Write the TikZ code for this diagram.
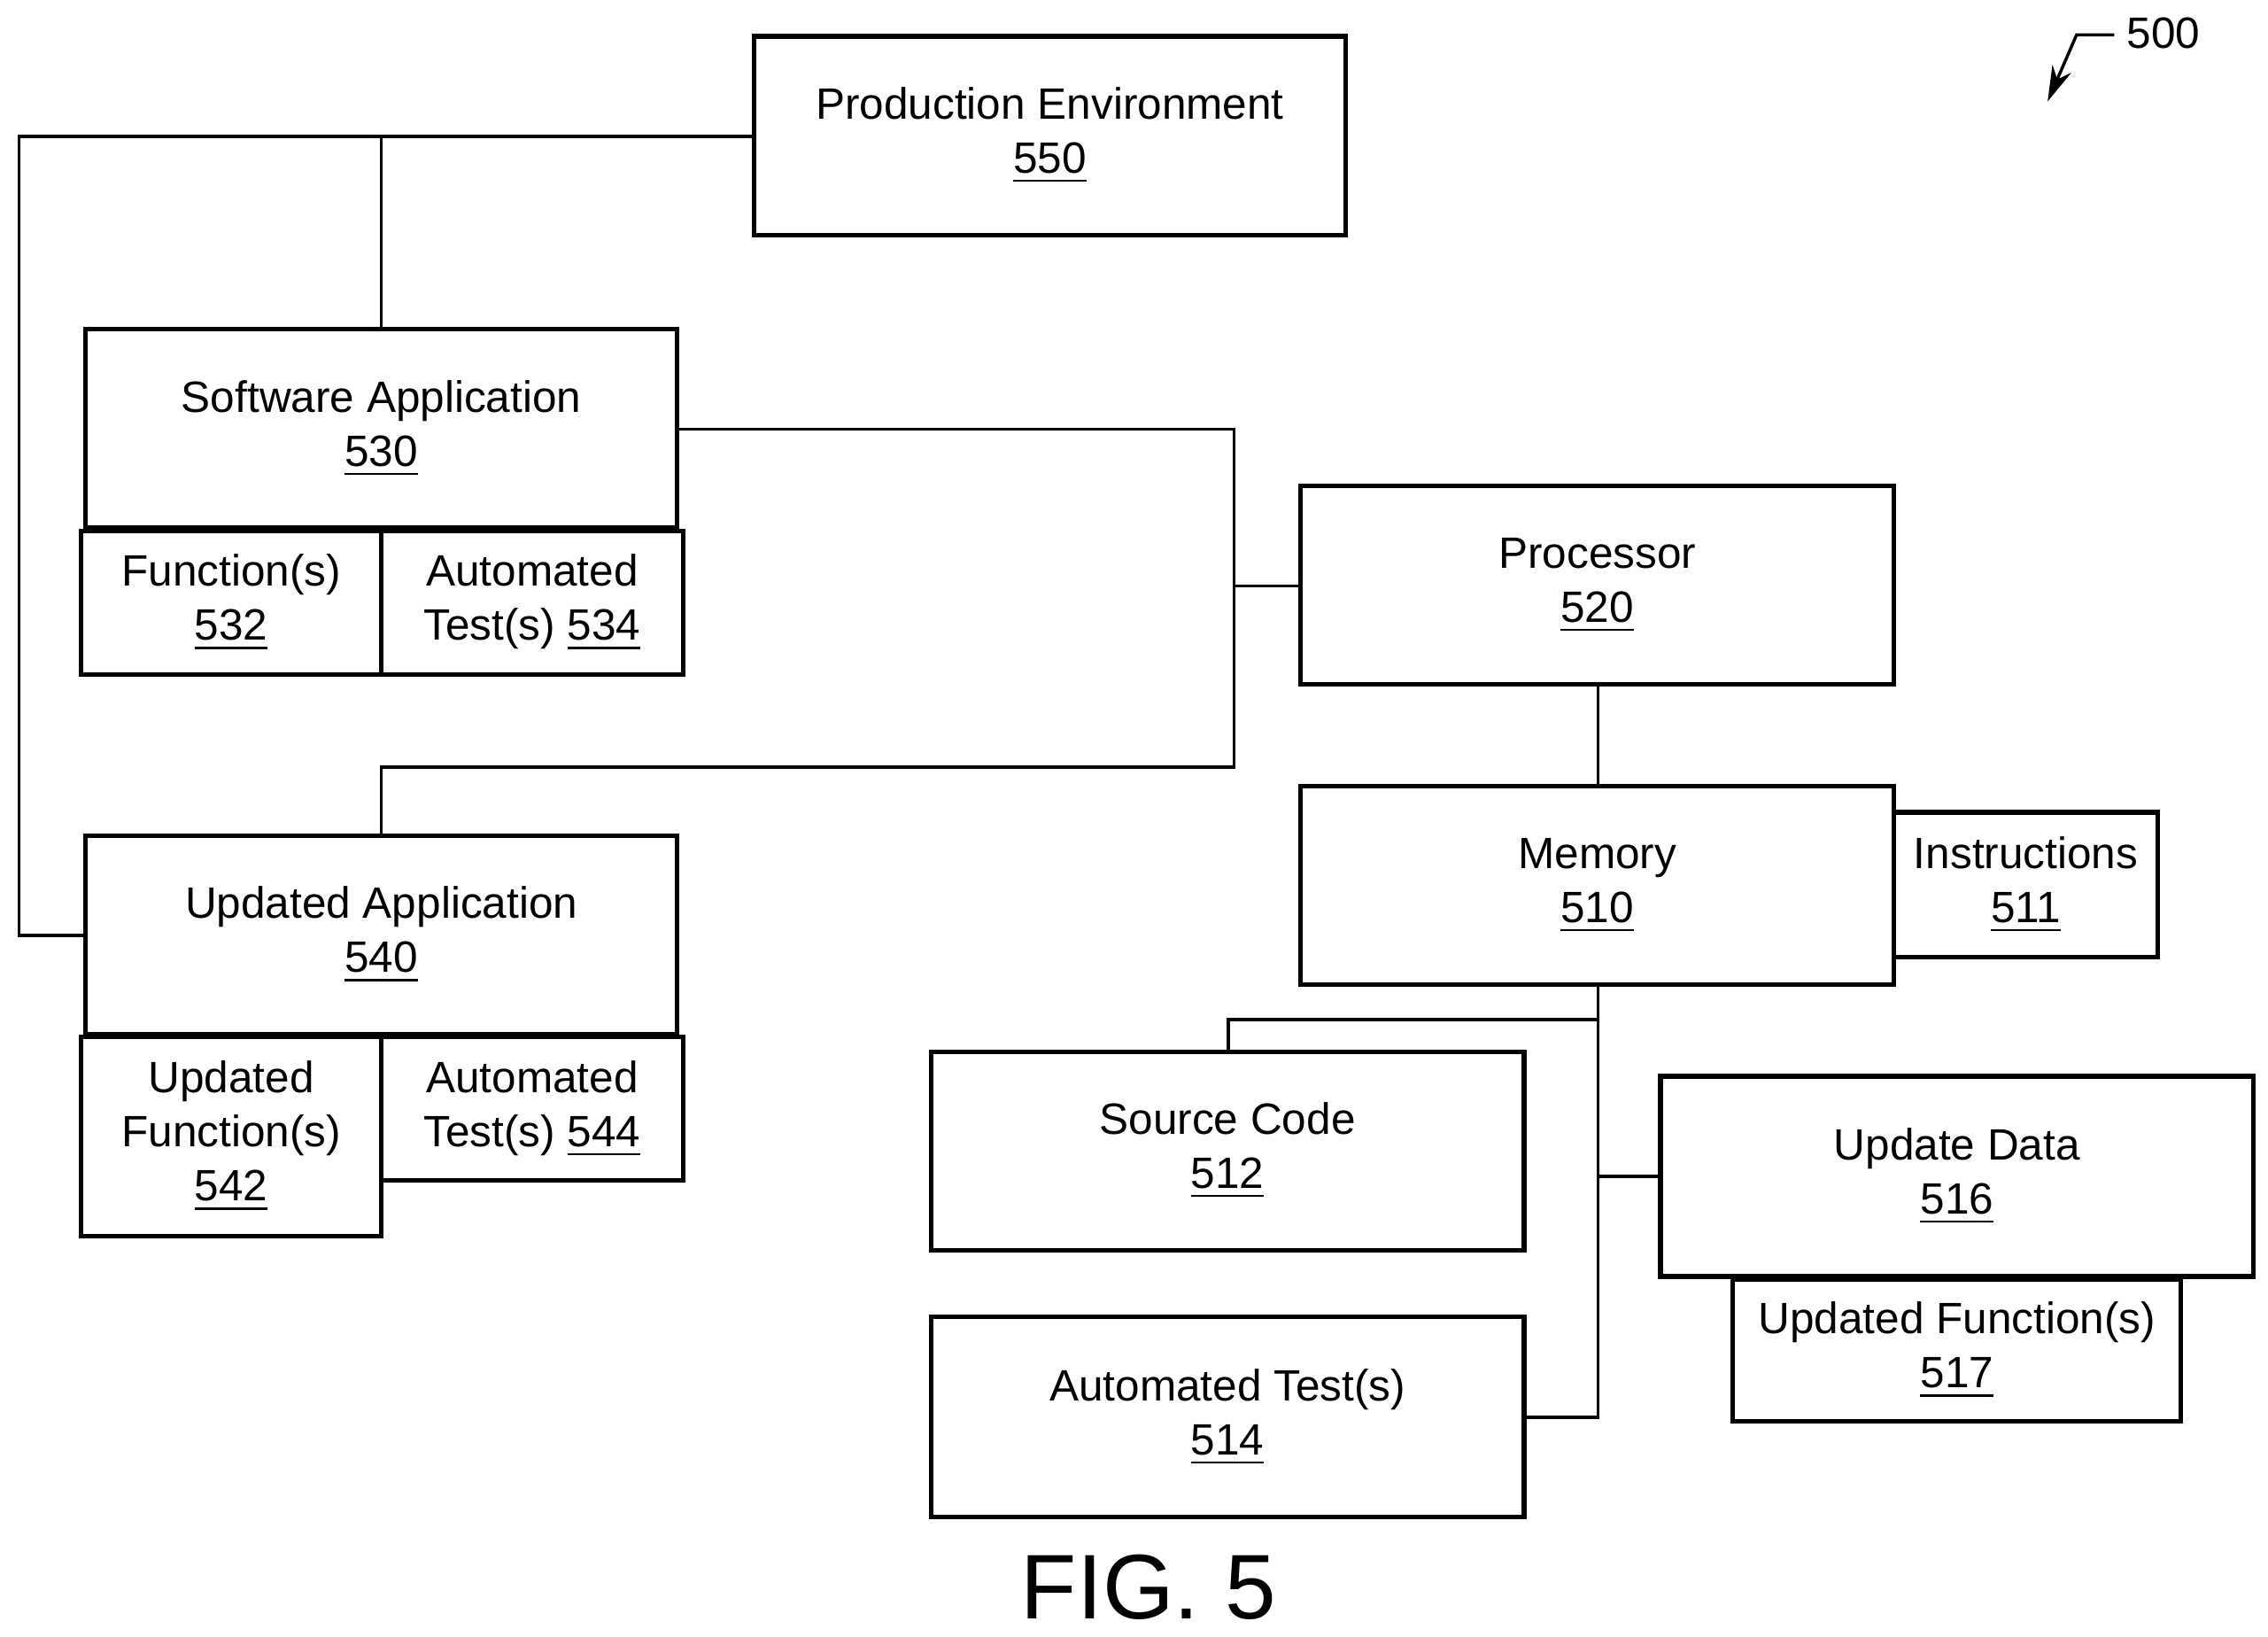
\documentclass[tikz,border=0pt]{standalone}
\usepackage{fontspec}
\setmainfont{Liberation Sans}
\usetikzlibrary{arrows.meta}
\begin{document}
\begin{tikzpicture}[x=0.01cm,y=-0.01cm,line width=0.6pt]
\useasboundingbox (0,0) rectangle (1564,1128);
\newcommand{\bx}[6]{\draw[line width=0.9pt] (#2,#3) rectangle (#4,#5); \node[align=center,font=\fontsize{8.6}{10.6}\selectfont] (#1) at ({(#2+#4)/2},{(#3+#5)/2}) {#6};}
\bx{p550}{520}{25}{928}{162}{Production Environment\\\underline{550}}
\bx{p530}{59}{227}{467}{364}{Software Application\\\underline{530}}
\bx{p532}{56}{366}{263}{465}{Function(s)\\\underline{532}}
\bx{p534}{263}{366}{471}{465}{Automated\\Test(s) \underline{534}}
\bx{p540}{59}{576}{467}{713}{Updated Application\\\underline{540}}
\bx{p542}{56}{715}{263}{852}{Updated\\Function(s)\\\underline{542}}
\bx{p544}{263}{715}{471}{814}{Automated\\Test(s) \underline{544}}
\bx{p520}{897}{335}{1306}{472}{Processor\\\underline{520}}
\bx{p510}{897}{542}{1306}{679}{Memory\\\underline{510}}
\bx{p511}{1306}{560}{1488}{660}{Instructions\\\underline{511}}
\bx{p512}{642}{725}{1051}{862}{Source Code\\\underline{512}}
\bx{p514}{642}{908}{1051}{1046}{Automated Test(s)\\\underline{514}}
\bx{p516}{1145}{742}{1554}{880}{Update Data\\\underline{516}}
\bx{p517}{1195}{882}{1504}{980}{Updated Function(s)\\\underline{517}}
\coordinate (a) at (263,94);
\draw (520,94) -- (13,94) -- (13,645) -- (59,645);
\draw (a) -- (263,227);
\draw (467,296) -- (851,296) -- (851,529) -- (263,529) -- (263,576);
\draw (851,404) -- (897,404);
\draw (1102,472) -- (1102,542);
\draw (1102,679) -- (1102,977) -- (1051,977);
\draw (1102,703) -- (847,703) -- (847,725);
\draw (1102,811) -- (1145,811);
\node[font=\fontsize{8.6}{10.6}\selectfont] (n500) at (1492,23) {500};
\coordinate (t0) at (1458,24);
\draw[-{Stealth[length=7pt,width=4pt]}] (t0) -- (1432,24) -- (1412,70);
\node[font=\fontsize{18}{22}\selectfont] (fig) at (792,1094) {FIG. 5};
\end{tikzpicture}
\end{document}
